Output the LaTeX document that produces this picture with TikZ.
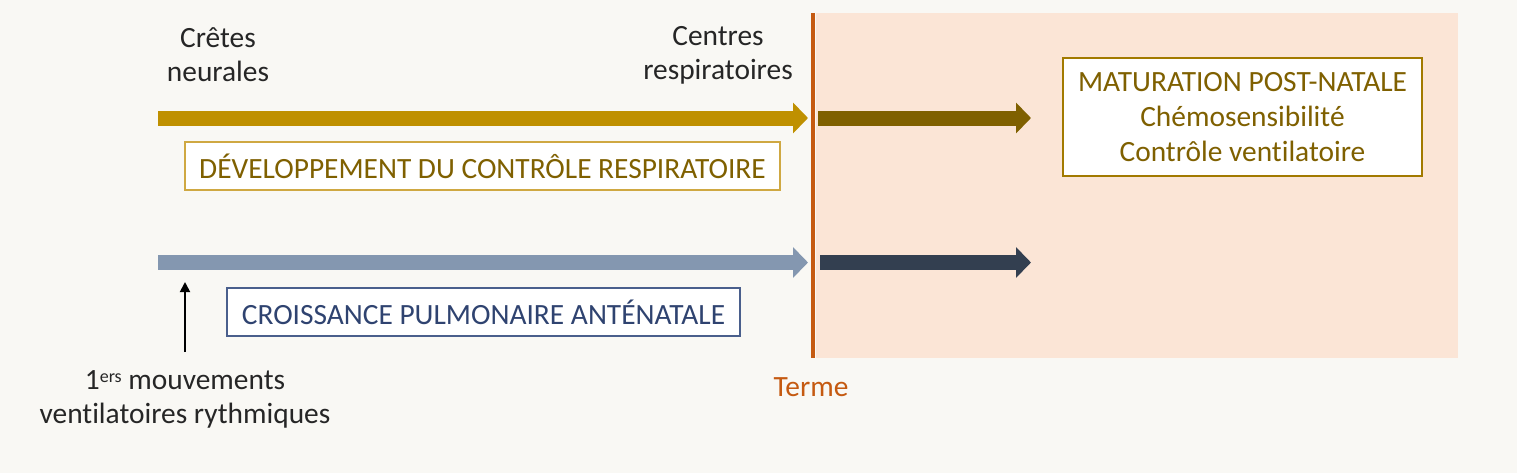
\documentclass[tikz,border=0pt]{standalone}
\usepackage{fontspec}
\setmainfont{Carlito}[Ligatures=NoCommon]
\usetikzlibrary{arrows.meta}
\definecolor{bgc}{HTML}{F9F8F4}
\definecolor{peach}{HTML}{FBE5D6}
\definecolor{termec}{HTML}{C55A11}
\definecolor{goldA}{HTML}{BF9000}
\definecolor{goldB}{HTML}{7F6000}
\definecolor{blueA}{HTML}{8497B0}
\definecolor{blueB}{HTML}{333F50}
\definecolor{goldtxt}{HTML}{7F6000}
\definecolor{goldborder}{HTML}{CFA842}
\definecolor{blueborder}{HTML}{4A5F8C}
\definecolor{bluetxt}{HTML}{2F4370}
\definecolor{darktxt}{HTML}{262626}
\tikzset{
  bigarrow/.style={line width=7.5pt, -{Triangle[length=7.5pt,width=15pt]}},
  labeltxt/.style={text=darktxt, align=center, font=\fontsize{14.7}{17}\selectfont, inner sep=0pt},
  boxgold/.style={draw=goldborder, line width=0.8pt, fill=white, text=goldtxt, font=\fontsize{14.7}{17.3}\selectfont, inner sep=0pt},
  boxblue/.style={draw=blueborder, line width=0.8pt, fill=white, text=bluetxt, font=\fontsize{14.7}{17}\selectfont, inner sep=0pt},
}
\begin{document}
\begin{tikzpicture}[x=0.5pt,y=-0.5pt]
\useasboundingbox (0,0) rectangle (1517,473);
\fill[bgc] (0,0) rectangle (1517,473);
\fill[peach] (816,13) rectangle (1458,358);
\coordinate (ttop) at (813,13);
\coordinate (tbot) at (813,358);
\draw[termec, line width=1.6pt] (ttop) -- (tbot);
\node[text=termec, font=\fontsize{14.7}{17}\selectfont, inner sep=0pt] (terme) at (811,387) {Terme};
% arrows
\coordinate (g1s) at (158,118);
\coordinate (g1e) at (808,118);
\coordinate (g2s) at (818,118);
\coordinate (g2e) at (1031,118);
\coordinate (b1s) at (158,262.5);
\coordinate (b1e) at (808,262.5);
\coordinate (b2s) at (820,262.5);
\coordinate (b2e) at (1031,262.5);
\draw[bigarrow, draw=goldA, fill=goldA] (g1s) -- (g1e);
\draw[bigarrow, draw=goldB, fill=goldB] (g2s) -- (g2e);
\draw[bigarrow, draw=blueA, fill=blueA] (b1s) -- (b1e);
\draw[bigarrow, draw=blueB, fill=blueB] (b2s) -- (b2e);
% boxes
\node[boxgold, minimum width=297.5pt, minimum height=24pt] (dev) at (482.5,166) {DÉVELOPPEMENT DU CONTRÔLE RESPIRATOIRE};
\node[boxblue, minimum width=256.5pt, minimum height=24pt] (croi) at (483.5,312) {CROISSANCE PULMONAIRE ANTÉNATALE};
\node[boxgold, draw=goldA!85!black, minimum width=179.5pt, minimum height=59pt, align=center] (mat) at (1242.5,117) {MATURATION POST-NATALE\\Chémosensibilité\\Contrôle ventilatoire};
% labels
\node[labeltxt] (cretes) at (218,55) {Crêtes\\neurales};
\node[labeltxt] (centres) at (718,55) {Centres\\respiratoires};
\node[labeltxt] (mouv) at (185,399) {1\raisebox{0.5ex}{\fontsize{9}{9}\selectfont ers} mouvements\\ventilatoires rythmiques};
\coordinate (ms) at (185,352);
\coordinate (me) at (185,282);
\draw[line width=0.9pt, -{Triangle[length=5pt,width=5pt]}] (ms) -- (me);
\end{tikzpicture}
\end{document}
